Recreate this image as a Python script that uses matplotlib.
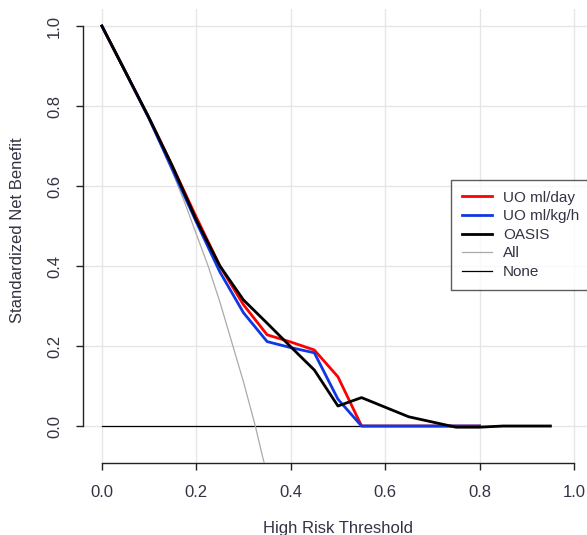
import numpy as np
import matplotlib.pyplot as plt

plt.rcParams['font.family'] = ['Liberation Sans', 'DejaVu Sans']

# thresholds used by the three models
thr_models = [0.0, 0.05, 0.10, 0.15, 0.20, 0.25, 0.30, 0.35, 0.40, 0.45,
              0.50, 0.55, 0.60, 0.65, 0.70, 0.75, 0.80]
uo_day = [1.0, 0.885, 0.77, 0.648, 0.522, 0.40, 0.303, 0.228, 0.21, 0.19,
          0.123, 0.0, 0.0, 0.0, 0.0, 0.0, 0.0]
uo_kgh = [1.0, 0.885, 0.768, 0.640, 0.510, 0.385, 0.283, 0.211, 0.196, 0.183,
          0.067, 0.0, 0.0, 0.0, 0.0, 0.0, 0.0]

thr_oasis = [0.0, 0.05, 0.10, 0.15, 0.20, 0.25, 0.30, 0.35, 0.40, 0.45,
             0.50, 0.55, 0.60, 0.65, 0.70, 0.75, 0.80, 0.85, 0.90, 0.95]
oasis = [1.0, 0.885, 0.77, 0.648, 0.515, 0.40, 0.315, 0.257, 0.198, 0.14,
         0.05, 0.071, 0.047, 0.023, 0.01, -0.003, -0.003, 0.0, 0.0, 0.0]

# treat-all curve
thr_all = [0.0, 0.025, 0.05, 0.075, 0.10, 0.125, 0.15, 0.175, 0.20, 0.225,
           0.25, 0.275, 0.30, 0.325, 0.34, 0.35]
all_nb = [1.0, 0.947, 0.89, 0.83, 0.77, 0.70, 0.633, 0.56, 0.48, 0.40,
          0.31, 0.21, 0.11, 0.0, -0.075, -0.12]

thr_none = [0.0, 0.95]
none_nb = [0.0, 0.0]

ticks = [0.0, 0.2, 0.4, 0.6, 0.8, 1.0]
tick_labels = ['0.0', '0.2', '0.4', '0.6', '0.8', '1.0']

W, H = 587, 535
fig = plt.figure(figsize=(W / 100, H / 100), dpi=100)
ax = fig.add_axes([83 / W, 1 - 463 / H, (W - 83) / W, (463 - 9.2) / H])

ax.set_xlim(-0.04, (W - 102) / 472)
ax.set_ylim(-0.0925, 1.042)

ax.grid(True, color='#e6e6e6', linewidth=1.0)
ax.set_axisbelow(True)

ax.plot(thr_none, none_nb, color='black', lw=0.9, label='None', zorder=3)
ax.plot(thr_all, all_nb, color='#aaaaaa', lw=0.9, label='All', zorder=3)
ax.plot(thr_models, uo_day, color='#ff0000', lw=2.0, label='UO ml/day', zorder=4)
ax.plot(thr_models, uo_kgh, color='#1038e0', lw=2.0, label='UO ml/kg/h', zorder=5)
ax.plot(thr_oasis, oasis, color='black', lw=2.0, label='OASIS', zorder=6)

for s in ['top', 'right']:
    ax.spines[s].set_visible(False)
ax.spines['left'].set_bounds(0, 1)
ax.spines['bottom'].set_bounds(0, 1)
for s in ['left', 'bottom']:
    ax.spines[s].set_color('#222222')
    ax.spines[s].set_linewidth(1.0)

ax.set_xticks(ticks)
ax.set_xticklabels(tick_labels)
ax.set_yticks(ticks)
ax.set_yticklabels(tick_labels)
ax.tick_params(axis='both', length=5, width=1.0, color='#222222',
               labelsize=12, labelcolor='#333344', pad=11)
ax.tick_params(axis='y', labelrotation=90, pad=10)
for lab in ax.get_yticklabels():
    lab.set_va('center')

fig.text(18 / W, 1 - 230 / H, 'Standardized Net Benefit', rotation=90,
         ha='center', va='center', fontsize=12, color='#333344')
fig.text(338 / W, 1 - 529 / H, 'High Risk Threshold',
         ha='center', va='center', fontsize=12, color='#333344')

handles, labels = ax.get_legend_handles_labels()
order = ['UO ml/day', 'UO ml/kg/h', 'OASIS', 'All', 'None']
hmap = dict(zip(labels, handles))
leg = ax.legend([hmap[k] for k in order], order, loc='upper left',
                bbox_to_anchor=((451 - 83) / (W - 83), (463 - 180) / (463 - 9.2)),
                borderaxespad=0, fancybox=False, frameon=True, fontsize=11,
                handlelength=2.0, handletextpad=0.7, labelspacing=0.3,
                borderpad=0.7)
leg.get_frame().set_edgecolor('#333333')
leg.get_frame().set_linewidth(1.0)
for t in leg.get_texts():
    t.set_color('#333344')

fig.savefig('out.png', dpi=100)
